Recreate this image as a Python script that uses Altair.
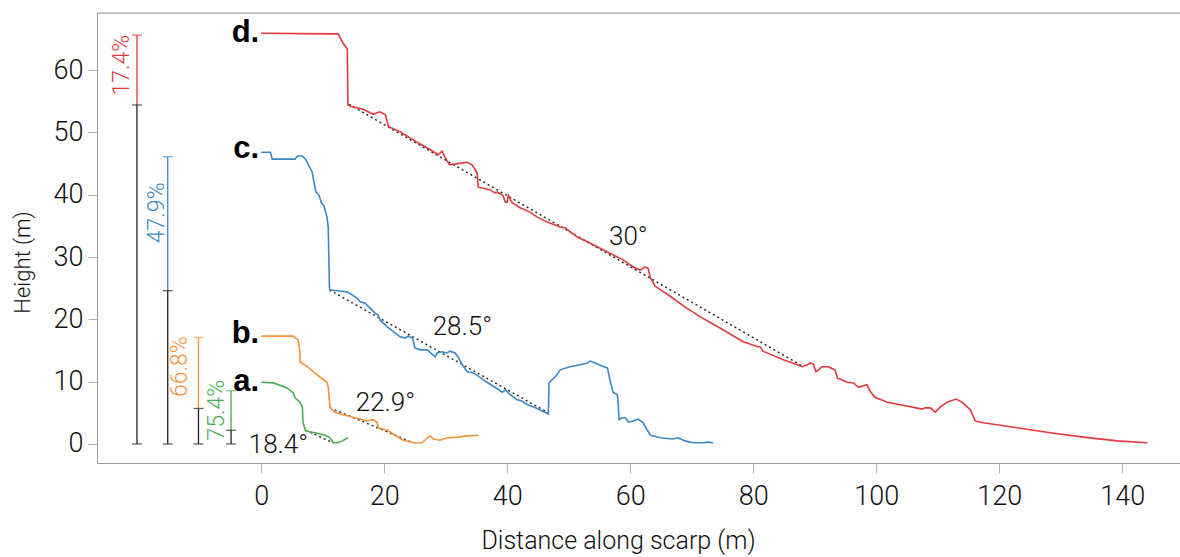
import altair as alt
import pandas as pd

# ---------------- data ----------------
# profile d (red)
d_x = [0, 11.2, 12.5, 13.3, 14.0, 14.1, 14.5, 16.6, 18.2, 19.3, 20.2, 20.7, 22.6, 24.7, 27.5, 28.8, 29.4, 29.9,
       30.6, 31.5, 32.7, 33.5, 34.3, 35.1, 35.3, 37.2, 38.0, 38.4, 39.3, 39.7, 40.0, 40.2, 40.8, 42.1, 43.7, 44.9,
       46.5, 48.6, 49.4, 49.9, 51.4, 53.5, 56.3, 58.9, 60.5, 61.6, 62.4, 62.9, 63.3, 64.1, 66.5, 68.9, 71.4, 74.6,
       78.4, 80.7, 81.1, 81.6, 84.9, 88.0, 88.8, 89.3, 89.8, 90.2, 90.6, 91.2, 92.2, 93.3, 93.7, 95.3, 96.3, 97.1,
       98.5, 98.7, 99.2, 99.8, 101.8, 103.9, 107.5, 108.0, 108.8, 109.6, 110.4, 111.5, 113.0, 114.1, 115.3, 116.1,
       117.4, 120.2, 122.9, 128.3, 133.7, 139.2, 144.1]
d_y = [65.9, 65.8, 65.8, 64.3, 63.4, 54.4, 54.2, 53.7, 52.9, 53.3, 52.8, 50.9, 50.1, 48.8, 47.2, 46.4, 47.0, 46.0,
       44.8, 44.9, 45.1, 45.2, 44.8, 43.5, 41.2, 40.8, 40.3, 40.4, 39.9, 38.8, 38.8, 39.9, 38.7, 37.9, 37.2, 36.4,
       35.6, 34.8, 34.7, 34.3, 33.2, 32.2, 30.8, 29.5, 28.4, 27.9, 28.4, 28.2, 26.6, 25.3, 23.7, 22.0, 20.4, 18.6,
       16.4, 15.6, 15.6, 14.9, 13.5, 12.4, 12.7, 13.0, 12.8, 11.6, 11.9, 12.4, 12.4, 11.9, 10.6, 9.9, 9.8, 9.1,
       9.5, 9.1, 8.2, 7.5, 6.7, 6.3, 5.6, 5.8, 5.8, 5.1, 5.9, 6.7, 7.2, 6.6, 5.5, 3.7,
       3.4, 3.0, 2.6, 1.8, 1.1, 0.5, 0.2]

# profile c (blue)
c_x = [0, 1.5, 1.8, 5.5, 5.9, 6.7, 7.2, 8.3, 8.5, 8.9, 9.4, 9.8, 10.2, 10.7, 10.9, 11.1, 11.2, 13.2, 14.0, 14.8,
       15.6, 16.1, 16.9, 17.7, 18.5, 19.0, 19.3, 20.5, 21.8, 22.6, 23.4, 23.9, 24.6, 25.0, 25.9, 27.0, 27.8, 28.3,
       28.6, 29.4, 30.2, 30.7, 31.5, 32.0, 32.7, 33.5, 34.5, 35.6, 36.7, 38.0, 39.2, 39.7, 40.5, 41.6, 42.4, 43.3,
       44.6, 46.7, 46.8, 47.3, 48.1, 48.6, 50.2, 51.9, 53.0, 53.5, 54.3, 55.4, 56.3, 56.7, 57.2, 57.9, 58.0, 58.2,
       58.7, 59.2, 59.7, 60.5, 61.3, 62.1, 62.8, 63.3, 64.9, 66.8, 67.8, 68.9, 70.2, 71.9, 72.7, 73.5]
c_y = [46.8, 46.8, 45.7, 45.7, 46.2, 46.2, 45.7, 43.6, 42.4, 40.4, 39.9, 38.7, 38.2, 36.4, 34.8, 25.0, 24.7, 24.5,
       24.4, 23.9, 23.4, 22.8, 22.6, 21.8, 21.0, 20.7, 19.9, 18.8, 17.8, 17.2, 17.0, 17.3, 17.0, 15.4, 15.1, 15.1,
       14.4, 14.0, 14.6, 14.8, 14.6, 14.9, 14.6, 14.0, 12.7, 11.6, 11.4, 10.7, 9.9, 9.1, 8.3, 8.7, 7.9, 7.1, 6.9,
       6.3, 5.8, 4.8, 9.8, 10.3, 11.1, 11.9, 12.4, 12.7, 13.0, 13.3, 13.0, 12.5, 12.2, 10.3, 8.3, 7.9, 7.1, 3.9,
       4.2, 4.2, 3.5, 3.7, 4.0, 3.4, 2.2, 1.4, 1.0, 0.8, 1.0, 0.5, 0.2, 0.2, 0.3, 0.2]

# profile b (orange)
b_x = [0, 5.2, 6.0, 6.3, 6.3, 7.5, 9.1, 10.7, 10.9, 11.2, 12.0, 13.3, 15.3, 17.2, 18.2, 18.9, 19.0, 20.5, 21.8,
       23.1, 24.7, 26.2, 27.0, 27.5, 28.0, 29.1, 30.2, 31.9, 33.5, 35.3]
b_y = [17.3, 17.3, 16.7, 14.8, 13.2, 12.4, 11.1, 9.9, 9.1, 5.8, 5.1, 4.7, 4.2, 3.7, 3.9, 3.4, 2.6, 2.2, 1.4,
       0.6, 0.2, 0.2, 1.0, 1.3, 0.8, 0.6, 1.0, 1.1, 1.3, 1.4]

# profile a (green)
a_x = [0, 2.0, 4.2, 5.2, 5.5, 6.3, 6.7, 6.8, 7.2, 8.0, 8.8, 9.6, 10.4, 11.2, 11.7, 12.4, 13.2, 14.1]
a_y = [9.9, 9.8, 9.0, 8.2, 7.4, 6.7, 5.9, 3.4, 2.2, 1.9, 1.8, 1.6, 1.4, 1.0, 0.2, 0.2, 0.5, 1.0]

# fitted slope lines (start / end) and their angle labels
fit_names = ["a", "b", "c", "d"]
fit_x0 = [7.2, 11.2, 11.1, 14.3]
fit_y0 = [2.2, 5.8, 24.7, 54.5]
fit_x1 = [11.7, 24.7, 46.7, 88.0]
fit_y1 = [0.2, 0.2, 5.0, 12.5]
angle_text = ["18.4°", "22.9°", "28.5°", "30°"]
angle_x = [2.8, 20.2, 32.7, 59.7]
angle_y = [-0.2, 6.6, 18.8, 33.2]

# profile labels
lab_text = ["a.", "b.", "c.", "d."]
lab_y = [9.9, 17.6, 47.4, 66.0]

# left-hand proportion bars
bar_x = [-4.9, -10.2, -15.2, -20.2]
bar_split = [2.2, 5.7, 24.6, 54.4]
bar_top = [8.55, 17.1, 46.1, 65.6]
pct_text = ["75.4%", "66.8%", "47.9%", "17.4%"]
pct_x = [-7.2, -13.2, -17.0, -22.6]
pct_y = [5.45, 12.4, 37.1, 60.8]

colors = ["#4aad52", "#f5923a", "#3a89c9", "#e2393e"]
names = ["a", "b", "c", "d"]

# ---------------- tables ----------------
rows = []
for n, xs, ys in zip(names, [a_x, b_x, c_x, d_x], [a_y, b_y, c_y, d_y]):
    for i, (xv, yv) in enumerate(zip(xs, ys)):
        rows.append({"profile": n, "i": i, "x": xv, "y": yv})
prof = pd.DataFrame(rows)

fit_rows = []
for n, x0, y0, x1, y1 in zip(fit_names, fit_x0, fit_y0, fit_x1, fit_y1):
    fit_rows.append({"profile": n, "i": 0, "x": x0, "y": y0})
    fit_rows.append({"profile": n, "i": 1, "x": x1, "y": y1})
fit = pd.DataFrame(fit_rows)

ang = pd.DataFrame({"t": angle_text, "x": angle_x, "y": angle_y})
lab = pd.DataFrame({"t": lab_text, "x": [0.0] * 4, "y": lab_y})
bars = pd.DataFrame({"profile": names, "x": bar_x, "split": bar_split, "top": bar_top,
                     "zero": [0.0] * 4, "t": pct_text, "tx": pct_x, "ty": pct_y})
caps = pd.DataFrame({"profile": names * 3, "x": bar_x * 3,
                     "y": [0.0] * 4 + bar_split + bar_top,
                     "kind": ["k"] * 8 + ["c"] * 4})

FONT = "Roboto"
xsc = alt.Scale(domain=[-26.7, 149.4], nice=False, zero=False)
ysc = alt.Scale(domain=[-3.05, 69.15], nice=False, zero=False)
csc = alt.Scale(domain=names, range=colors)

X = alt.X("x:Q", scale=xsc, axis=alt.Axis(
    values=list(range(0, 141, 20)), title="Distance along scarp (m)", grid=False,
    domainColor="#9a9a9a", tickColor="#b0b0b0", tickSize=10, labelPadding=10,
    labelFontSize=27, labelFont=FONT, labelFontWeight=300, labelColor="#111",
    titleFontSize=25, titleFont=FONT, titleFontWeight=300, titleColor="#111",
    titleX=521, titleY=77, titleBaseline="middle"))
Y = alt.Y("y:Q", scale=ysc, axis=alt.Axis(
    values=list(range(0, 61, 10)), title="Height (m)", grid=False,
    domainColor="#9a9a9a", tickColor="#b0b0b0", tickSize=9, labelPadding=5,
    labelFontSize=27, labelFont=FONT, labelFontWeight=300, labelColor="#111",
    titleFontSize=22, titleFont=FONT, titleFontWeight=300, titleColor="#111",
    titleX=-75, titleY=249, titleBaseline="middle", titleAngle=270))

base = alt.Chart(prof)
lines = base.mark_line(strokeWidth=1.6).encode(
    x=X, y=Y, color=alt.Color("profile:N", scale=csc, legend=None), order="i:Q")

fits = alt.Chart(fit).mark_line(color="#222", strokeWidth=1.4, strokeDash=[2, 3]).encode(
    x="x:Q", y="y:Q", detail="profile:N", order="i:Q")

angs = alt.Chart(ang).mark_text(font=FONT, fontWeight=300, fontSize=26, color="#111",
                                align="center", baseline="middle").encode(
    x="x:Q", y="y:Q", text="t:N")

labs = alt.Chart(lab).mark_text(font="Liberation Sans", fontWeight="bold", fontSize=31, color="#000",
                                align="right", baseline="middle", dx=-2).encode(
    x="x:Q", y="y:Q", text="t:N")

black_bars = alt.Chart(bars).mark_rule(color="#222", strokeWidth=1.3).encode(
    x="x:Q", y="zero:Q", y2="split:Q")
col_bars = alt.Chart(bars).mark_rule(strokeWidth=1.3).encode(
    x="x:Q", y="split:Q", y2="top:Q", color=alt.Color("profile:N", scale=csc, legend=None))
cap_k = alt.Chart(caps).transform_filter("datum.kind == 'k'").mark_tick(
    orient="horizontal", size=10, thickness=1.3, color="#222").encode(x="x:Q", y="y:Q")
cap_c = alt.Chart(caps).transform_filter("datum.kind == 'c'").mark_tick(
    orient="horizontal", size=10, thickness=1.3).encode(
    x="x:Q", y="y:Q", color=alt.Color("profile:N", scale=csc, legend=None))
pcts = alt.Chart(bars).mark_text(font=FONT, fontWeight=300, fontSize=23, angle=270,
                                 align="center", baseline="middle").encode(
    x="tx:Q", y="ty:Q", text="t:N", color=alt.Color("profile:N", scale=csc, legend=None))

top_line = alt.Chart(pd.DataFrame({"a": [0]})).mark_rule(color="#9a9a9a", strokeWidth=1).encode(
    x=alt.value(0), x2=alt.value(1083), y=alt.value(0))

chart = alt.layer(top_line, black_bars, col_bars, cap_k, cap_c, pcts, fits, lines, angs, labs).properties(
    width=1083, height=450,
    autosize=alt.AutoSizeParams(type="none"),
    padding={"left": 97, "top": 13, "right": 0, "bottom": 94},
).configure_view(stroke=None).configure(background="white")

chart.save("out.html", embed_options={"renderer": "svg", "actions": False})
